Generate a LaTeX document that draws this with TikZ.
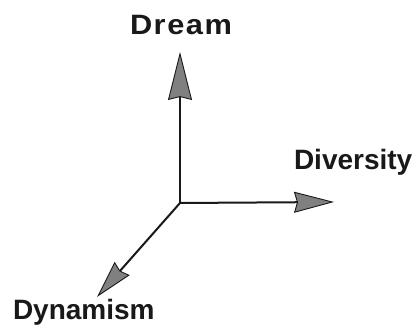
\documentclass[tikz,border=0pt]{standalone}
\usepackage{fontspec}
\setmainfont{Liberation Sans}
\usetikzlibrary{arrows.meta}
\begin{document}
\begin{tikzpicture}[x=1pt,y=-1pt,
  lbl/.style={inner sep=0pt,outer sep=0pt,font=\fontsize{28}{30}\selectfont\bfseries,text=black!90},
  axis/.style={line width=2pt,draw=black!90}]
\useasboundingbox[fill=white] (0,0) rectangle (415,328);
\coordinate (O) at (180,203);
\coordinate (up) at (180,52);
\coordinate (right) at (334,202);
\coordinate (dl) at (97,297);
\node[lbl,anchor=base west,xscale=1.1] (dream) at (130,35) {\addfontfeature{LetterSpace=5}Dream};
\node[lbl,anchor=base west] (diversity) at (294,170) {Diversity};
\node[lbl,anchor=base west] (dynamism) at (13,320) {Dynamism};
\draw[axis,-{Stealth[inset=3pt,length=48pt,width=24pt,fill=black!50,line width=0.9pt]}] (O) -- (up);
\draw[axis,-{Stealth[inset=3pt,length=40pt,width=21pt,fill=black!50,line width=0.9pt]}] (O) -- (right);
\draw[axis,-{Stealth[inset=3pt,length=38pt,width=20pt,fill=black!50,line width=0.9pt]}] (O) -- (dl);
\end{tikzpicture}
\end{document}
